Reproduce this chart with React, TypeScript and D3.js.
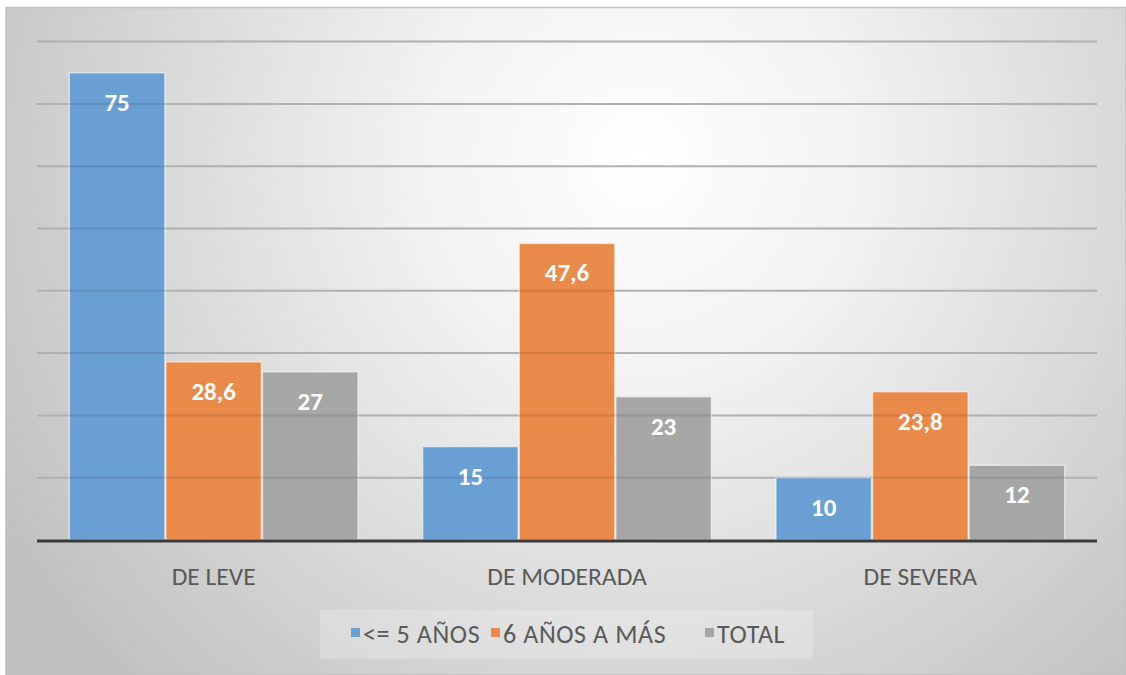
import React from 'react';
import * as d3 from 'd3';

const categories = ['DE LEVE', 'DE MODERADA', 'DE SEVERA'];
const seriesNames = ['<= 5 AÑOS', '6 AÑOS A MÁS', 'TOTAL'];
const menores = [75, 15, 10];
const mayores = [28.6, 47.6, 23.8];
const total = [27, 23, 12];
const gridTicks = [10, 20, 30, 40, 50, 60, 70, 80];

const colors = ['#6a9fd4', '#e9894a', '#a6a6a6'];
const FONT = "Carlito, 'Liberation Sans Narrow', 'Open Sans', sans-serif";

const App: React.FC = () => {
  const width = 1126;
  const height = 675;
  const left = 37;
  const right = 1097;
  const base = 540;

  const seriesValues = [menores, mayores, total];

  const y = d3.scaleLinear().domain([0, 80]).range([base, 41.6]);
  const x0 = d3
    .scaleBand<string>()
    .domain(categories)
    .range([left, right])
    .paddingInner(0.18)
    .paddingOuter(0.09);
  const x1 = d3
    .scaleBand<string>()
    .domain(seriesNames)
    .range([0, x0.bandwidth()])
    .padding(0);

  const fmt = (v: number) => String(v).replace('.', ',');

  // legend layout
  const legendItems = [
    { x: 351, textX: 363 },
    { x: 491, textX: 503 },
    { x: 705, textX: 717 },
  ];

  return (
    <svg
      width={width}
      height={height}
      style={{ position: 'absolute', left: 0, top: 0 }}
    >
      <defs>
        <radialGradient
          id="bg"
          gradientUnits="userSpaceOnUse"
          cx={640}
          cy={160}
          r={740}
        >
          <stop offset="0" stopColor="#ffffff" />
          <stop offset="0.3" stopColor="#f2f2f2" />
          <stop offset="1" stopColor="#c0c0c0" />
        </radialGradient>
      </defs>
      <rect x={0} y={0} width={width} height={height} fill="#ffffff" />
      <rect
        x={6}
        y={7.5}
        width={width - 6}
        height={height - 7.5}
        fill="url(#bg)"
        stroke="#c0c0c0"
        strokeWidth={1.5}
      />

      {/* gridlines behind */}
      {gridTicks.map((t) => (
        <line
          key={'g' + t}
          x1={left}
          x2={right}
          y1={y(t)}
          y2={y(t)}
          stroke="#c4c4c4"
          strokeWidth={2}
        />
      ))}

      {/* bars */}
      {categories.map((c, ci) => (
        <g key={c} transform={`translate(${x0(c)},0)`}>
          {seriesNames.map((s, si) => {
            const v = seriesValues[si][ci];
            const bx = x1(s) as number;
            const bw = x1.bandwidth();
            return (
              <g key={s}>
                <rect
                  x={bx + 0.5}
                  y={y(v)}
                  width={bw - 1}
                  height={base - y(v)}
                  fill={colors[si]}
                  stroke="rgba(255,255,255,0.55)"
                  strokeWidth={1.5}
                />
                <text
                  x={bx + bw / 2}
                  y={y(v) + 38}
                  textAnchor="middle"
                  fill="#ffffff"
                  fontFamily={FONT}
                  fontWeight="bold"
                  fontSize={25}
                >
                  {fmt(v)}
                </text>
              </g>
            );
          })}
        </g>
      ))}

      {/* gridlines shown through bars */}
      {gridTicks.map((t) => (
        <line
          key={'o' + t}
          x1={left}
          x2={right}
          y1={y(t)}
          y2={y(t)}
          stroke="#000000"
          strokeOpacity={0.1}
          strokeWidth={2}
        />
      ))}

      {/* baseline */}
      <line
        x1={left}
        x2={right}
        y1={base + 1}
        y2={base + 1}
        stroke="#3a3a3a"
        strokeWidth={3}
      />

      {/* category labels */}
      {categories.map((c) => (
        <text
          key={'l' + c}
          x={(x0(c) as number) + x0.bandwidth() / 2}
          y={585}
          textAnchor="middle"
          fill="#595959"
          fontFamily={FONT}
          fontSize={25.5}
        >
          {c}
        </text>
      ))}

      {/* legend */}
      <rect
        x={320}
        y={610}
        width={493}
        height={49}
        fill="#ffffff"
        fillOpacity={0.22}
      />
      {seriesNames.map((s, i) => (
        <g key={'lg' + s}>
          <rect
            x={legendItems[i].x}
            y={628}
            width={9}
            height={9}
            fill={colors[i]}
          />
          <text
            x={legendItems[i].textX}
            y={643}
            fill="#595959"
            fontFamily={FONT}
            fontSize={26}
            letterSpacing={0.6}
          >
            {s}
          </text>
        </g>
      ))}
    </svg>
  );
};

export default App;
